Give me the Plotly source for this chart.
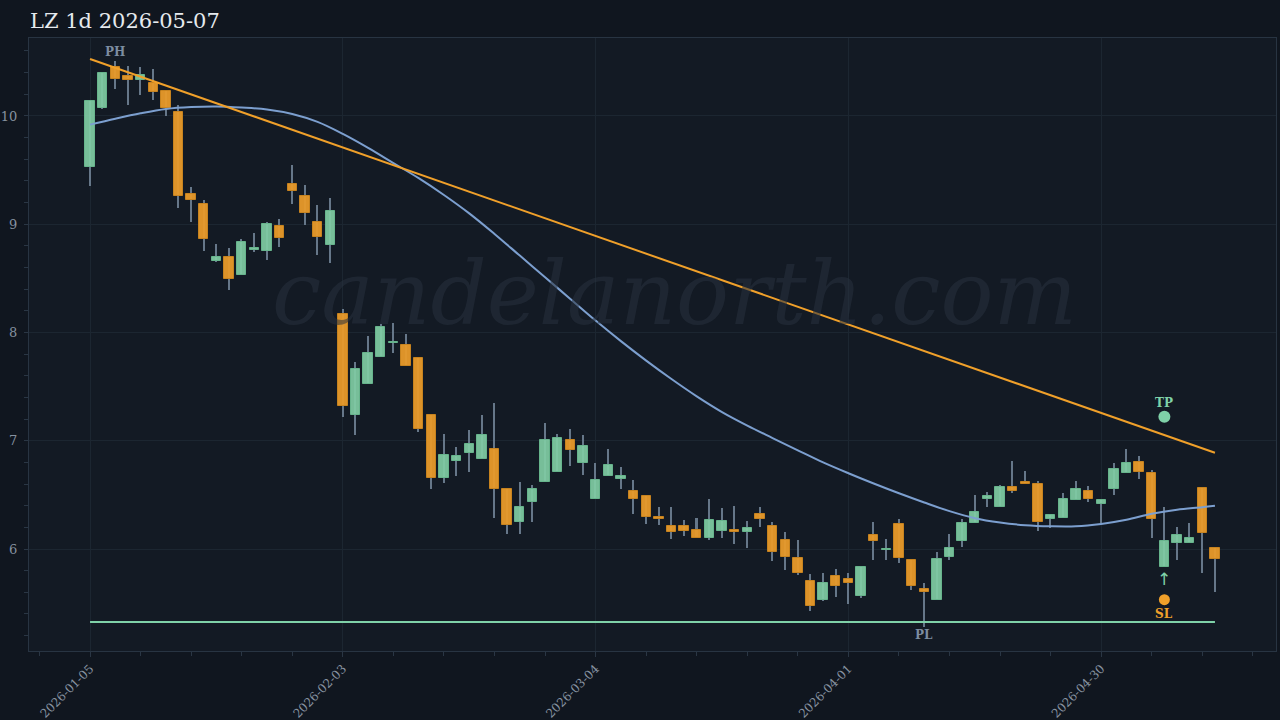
import plotly.graph_objects as go
import pandas as pd

# ---------------- data ----------------
holidays = ["2026-01-19", "2026-02-16", "2026-04-03"]
dates = [d.strftime("%Y-%m-%d") for d in pd.bdate_range("2026-01-05", periods=90, freq="C", holidays=holidays)]

opens = [9.53, 10.07, 10.45, 10.37, 10.33, 10.30, 10.23, 10.04, 9.28, 9.19,
         8.66, 8.70, 8.53, 8.765, 8.75, 8.98, 9.37, 9.26, 9.02, 8.81,
         8.17, 7.24, 7.52, 7.77, 7.90, 7.88, 7.76, 7.24, 6.66, 6.81,
         6.89, 6.83, 6.92, 6.55, 6.25, 6.43, 6.62, 6.71, 7.01, 6.79,
         6.46, 6.67, 6.65, 6.54, 6.49, 6.30, 6.21, 6.21, 6.18, 6.10,
         6.17, 6.18, 6.155, 6.32, 6.21, 6.08, 5.92, 5.70, 5.53, 5.75,
         5.72, 5.57, 6.13, 5.99, 6.23, 5.90, 5.63, 5.53, 5.93, 6.07,
         6.24, 6.46, 6.39, 6.57, 6.62, 6.60, 6.28, 6.29, 6.45, 6.54,
         6.42, 6.55, 6.70, 6.80, 6.70, 5.83, 6.06, 6.06, 6.56, 6.01]
highs = [10.15, 10.41, 10.51, 10.46, 10.45, 10.43, 10.24, 10.10, 9.34, 9.22,
         8.82, 8.78, 8.86, 8.92, 9.02, 9.05, 9.55, 9.36, 9.18, 9.24,
         8.22, 7.73, 7.97, 8.08, 8.09, 7.99, 7.76, 7.24, 7.06, 6.94,
         7.10, 7.24, 7.35, 6.55, 6.62, 6.59, 7.16, 7.06, 7.11, 7.05,
         6.79, 6.92, 6.76, 6.64, 6.49, 6.39, 6.39, 6.27, 6.29, 6.46,
         6.38, 6.40, 6.26, 6.39, 6.25, 6.16, 6.08, 5.77, 5.78, 5.82,
         5.78, 5.84, 6.25, 6.09, 6.28, 5.91, 5.69, 5.97, 6.14, 6.28,
         6.50, 6.53, 6.59, 6.81, 6.72, 6.63, 6.31, 6.52, 6.63, 6.58,
         6.45, 6.79, 6.92, 6.86, 6.73, 6.39, 6.20, 6.24, 6.56, 6.01]
lows = [9.35, 10.06, 10.25, 10.10, 10.19, 10.15, 10.00, 9.15, 9.02, 8.75,
        8.65, 8.39, 8.53, 8.74, 8.67, 8.79, 9.19, 8.99, 8.72, 8.64,
        7.22, 7.05, 7.52, 7.77, 7.81, 7.69, 7.08, 6.55, 6.61, 6.67,
        6.71, 6.83, 6.29, 6.14, 6.14, 6.25, 6.62, 6.71, 6.77, 6.68,
        6.46, 6.67, 6.55, 6.32, 6.23, 6.22, 6.09, 6.12, 6.10, 6.08,
        6.10, 6.05, 6.01, 6.20, 5.89, 5.81, 5.76, 5.43, 5.52, 5.56,
        5.49, 5.55, 5.90, 5.90, 5.87, 5.62, 5.28, 5.53, 5.90, 6.02,
        6.24, 6.39, 6.39, 6.52, 6.61, 6.17, 6.19, 6.29, 6.45, 6.43,
        6.24, 6.50, 6.70, 6.65, 6.10, 5.83, 5.90, 6.06, 5.78, 5.60]
closes = [10.14, 10.40, 10.34, 10.33, 10.38, 10.22, 10.07, 9.26, 9.22, 8.86,
          8.70, 8.49, 8.84, 8.775, 9.00, 8.87, 9.31, 9.10, 8.88, 9.12,
          7.32, 7.66, 7.81, 8.05, 7.915, 7.69, 7.11, 6.66, 6.87, 6.86,
          6.97, 7.05, 6.55, 6.22, 6.39, 6.55, 7.01, 7.03, 6.91, 6.95,
          6.64, 6.78, 6.67, 6.46, 6.30, 6.28, 6.16, 6.17, 6.10, 6.27,
          6.26, 6.155, 6.19, 6.28, 5.97, 5.93, 5.78, 5.47, 5.69, 5.66,
          5.69, 5.83, 6.07, 6.00, 5.92, 5.66, 5.60, 5.91, 6.01, 6.24,
          6.34, 6.49, 6.57, 6.54, 6.605, 6.25, 6.31, 6.46, 6.55, 6.46,
          6.45, 6.74, 6.79, 6.71, 6.28, 6.07, 6.13, 6.10, 6.15, 5.91]

# smoothed average line (read at every second bar)
ma_idx = [0, 2, 4, 6, 8, 10, 12, 14, 16, 18, 20, 22, 24, 26, 28, 30, 32, 34, 36, 38,
          40, 42, 44, 46, 48, 50, 52, 54, 56, 58, 60, 62, 64, 66, 68, 70, 72, 74, 76, 78,
          80, 82, 84, 86, 88, 89]
ma_vals = [9.92, 9.975, 10.025, 10.065, 10.083, 10.088, 10.078, 10.06, 10.018, 9.945,
           9.834, 9.705, 9.565, 9.425, 9.27, 9.10, 8.91, 8.71, 8.51, 8.31,
           8.11, 7.92, 7.74, 7.57, 7.41, 7.265, 7.14, 7.025, 6.912, 6.80,
           6.70, 6.605, 6.515, 6.43, 6.35, 6.285, 6.245, 6.22, 6.21, 6.21,
           6.232, 6.27, 6.326, 6.363, 6.386, 6.40]

trend_idx = [0, 89]
trend_vals = [10.526, 6.889]
sl_line_level = 5.326
tp_price = 7.222
sl_price = 5.532
signal_idx = 85
ph_idx = 2
pl_idx = 66
tick_idx = [0, 20, 40, 60, 80]

# ---------------- style ----------------
FONT = "DejaVu Serif"
UP_FILL = "rgba(128,204,164,0.92)"
UP_LINE = "#67b48c"
DN_FILL = "rgba(232,154,42,0.95)"
DN_LINE = "#c7831f"
WICK = "#667789"
PAPER = "#10161f"
PLOT = "#131a24"
GRID = "#1c2631"

x = list(range(len(opens)))
body_base = [min(o, c) for o, c in zip(opens, closes)]
body_h = [max(abs(c - o), 0.012) for o, c in zip(opens, closes)]
up = [c >= o for o, c in zip(opens, closes)]
fills = [UP_FILL if u else DN_FILL for u in up]
lines = [UP_LINE if u else DN_LINE for u in up]

fig = go.Figure()
# wicks
fig.add_trace(go.Bar(x=x, base=lows, y=[h - l for h, l in zip(highs, lows)],
                     width=0.12, marker=dict(color=WICK, line=dict(width=0)),
                     hoverinfo="skip", showlegend=False))
# bodies
fig.add_trace(go.Bar(x=x, base=body_base, y=body_h, width=0.74,
                     marker=dict(color=fills, line=dict(color=lines, width=1)),
                     customdata=dates, showlegend=False,
                     hovertemplate="%{customdata}<extra></extra>"))
# average
fig.add_trace(go.Scatter(x=ma_idx, y=ma_vals, mode="lines",
                         line=dict(color="#7c9fcf", width=2, shape="spline", smoothing=1.0),
                         hoverinfo="skip", showlegend=False))
# trend line
fig.add_trace(go.Scatter(x=trend_idx, y=trend_vals, mode="lines",
                         line=dict(color="#f0a02a", width=2), hoverinfo="skip", showlegend=False))
# level line
fig.add_trace(go.Scatter(x=[x[0], x[-1]], y=[sl_line_level, sl_line_level], mode="lines",
                         line=dict(color="#7fd1a8", width=2), hoverinfo="skip", showlegend=False))
# TP / SL markers
fig.add_trace(go.Scatter(x=[signal_idx], y=[tp_price], mode="markers",
                         marker=dict(color="#7fd1a8", size=12), hoverinfo="skip", showlegend=False))
fig.add_trace(go.Scatter(x=[signal_idx], y=[sl_price], mode="markers",
                         marker=dict(color="#f0a02a", size=11), hoverinfo="skip", showlegend=False))

ann = []
ann.append(dict(x=0.5, y=0.5, xref="paper", yref="paper", text="candelanorth.com",
                showarrow=False, xshift=22, yshift=51,
                font=dict(family=FONT, size=88, color="rgba(40,50,62,0.55)", style="italic")))
ann.append(dict(x=ph_idx, y=highs[ph_idx], text="<b>PH</b>", showarrow=False, yshift=9,
                font=dict(family=FONT, size=12, color="#7d8da0")))
ann.append(dict(x=pl_idx, y=lows[pl_idx], text="<b>PL</b>", showarrow=False, yshift=-8,
                font=dict(family=FONT, size=12, color="#7d8da0")))
ann.append(dict(x=signal_idx, y=tp_price, text="<b>TP</b>", showarrow=False, yshift=14,
                font=dict(family=FONT, size=12, color="#7fd1a8")))
ann.append(dict(x=signal_idx, y=sl_price, text="<b>SL</b>", showarrow=False, yshift=-14,
                font=dict(family=FONT, size=12, color="#f0a02a")))
ann.append(dict(x=signal_idx, y=sl_price, text="↑", showarrow=False, yshift=21,
                font=dict(family="DejaVu Sans", size=17, color="#7fd1a8")))

fig.update_layout(
    width=1280, height=720,
    paper_bgcolor=PAPER, plot_bgcolor=PLOT,
    margin=dict(l=29, r=4, t=38, b=69, autoexpand=False),
    barmode="overlay", bargap=0,
    showlegend=False,
    title=dict(text="LZ 1d 2026-05-07", x=0, xref="paper", xanchor="left",
               y=1 - 21 / 720, yref="container", yanchor="middle", pad=dict(l=1),
               font=dict(family=FONT, size=21, color="#e6eaee")),
    annotations=ann,
    font=dict(family=FONT),
)
fig.update_xaxes(
    range=[-4.83, 93.83], tickmode="array", tickvals=tick_idx,
    ticktext=[dates[i] for i in tick_idx], tickangle=-45, automargin=False,
    tickfont=dict(family=FONT, size=12, color="#8792a0"),
    ticks="outside", ticklen=5, tickcolor="#2a3644",
    showgrid=True, gridcolor=GRID, gridwidth=1, zeroline=False,
    showline=True, linecolor="#283442", linewidth=1, mirror=True,
    minor=dict(tickmode="linear", tick0=0, dtick=4, ticks="outside", ticklen=4,
               tickcolor="#2a3644", showgrid=False),
)
fig.update_yaxes(
    range=[5.058, 10.72], tickmode="linear", tick0=0, dtick=1, automargin=False,
    tickfont=dict(family=FONT, size=13, color="#8792a0"),
    ticks="outside", ticklen=4, tickcolor="#2a3644", ticklabelstandoff=4,
    showgrid=True, gridcolor=GRID, gridwidth=1, zeroline=False,
    showline=True, linecolor="#283442", linewidth=1, mirror=True,
    minor=dict(tickmode="linear", tick0=0, dtick=0.2, ticks="outside", ticklen=4,
               tickcolor="#2a3644", showgrid=False),
)

fig.write_html("out.html", config={"displayModeBar": False},
               post_script="document.body.style.margin='0px';document.body.style.overflow='hidden';")
